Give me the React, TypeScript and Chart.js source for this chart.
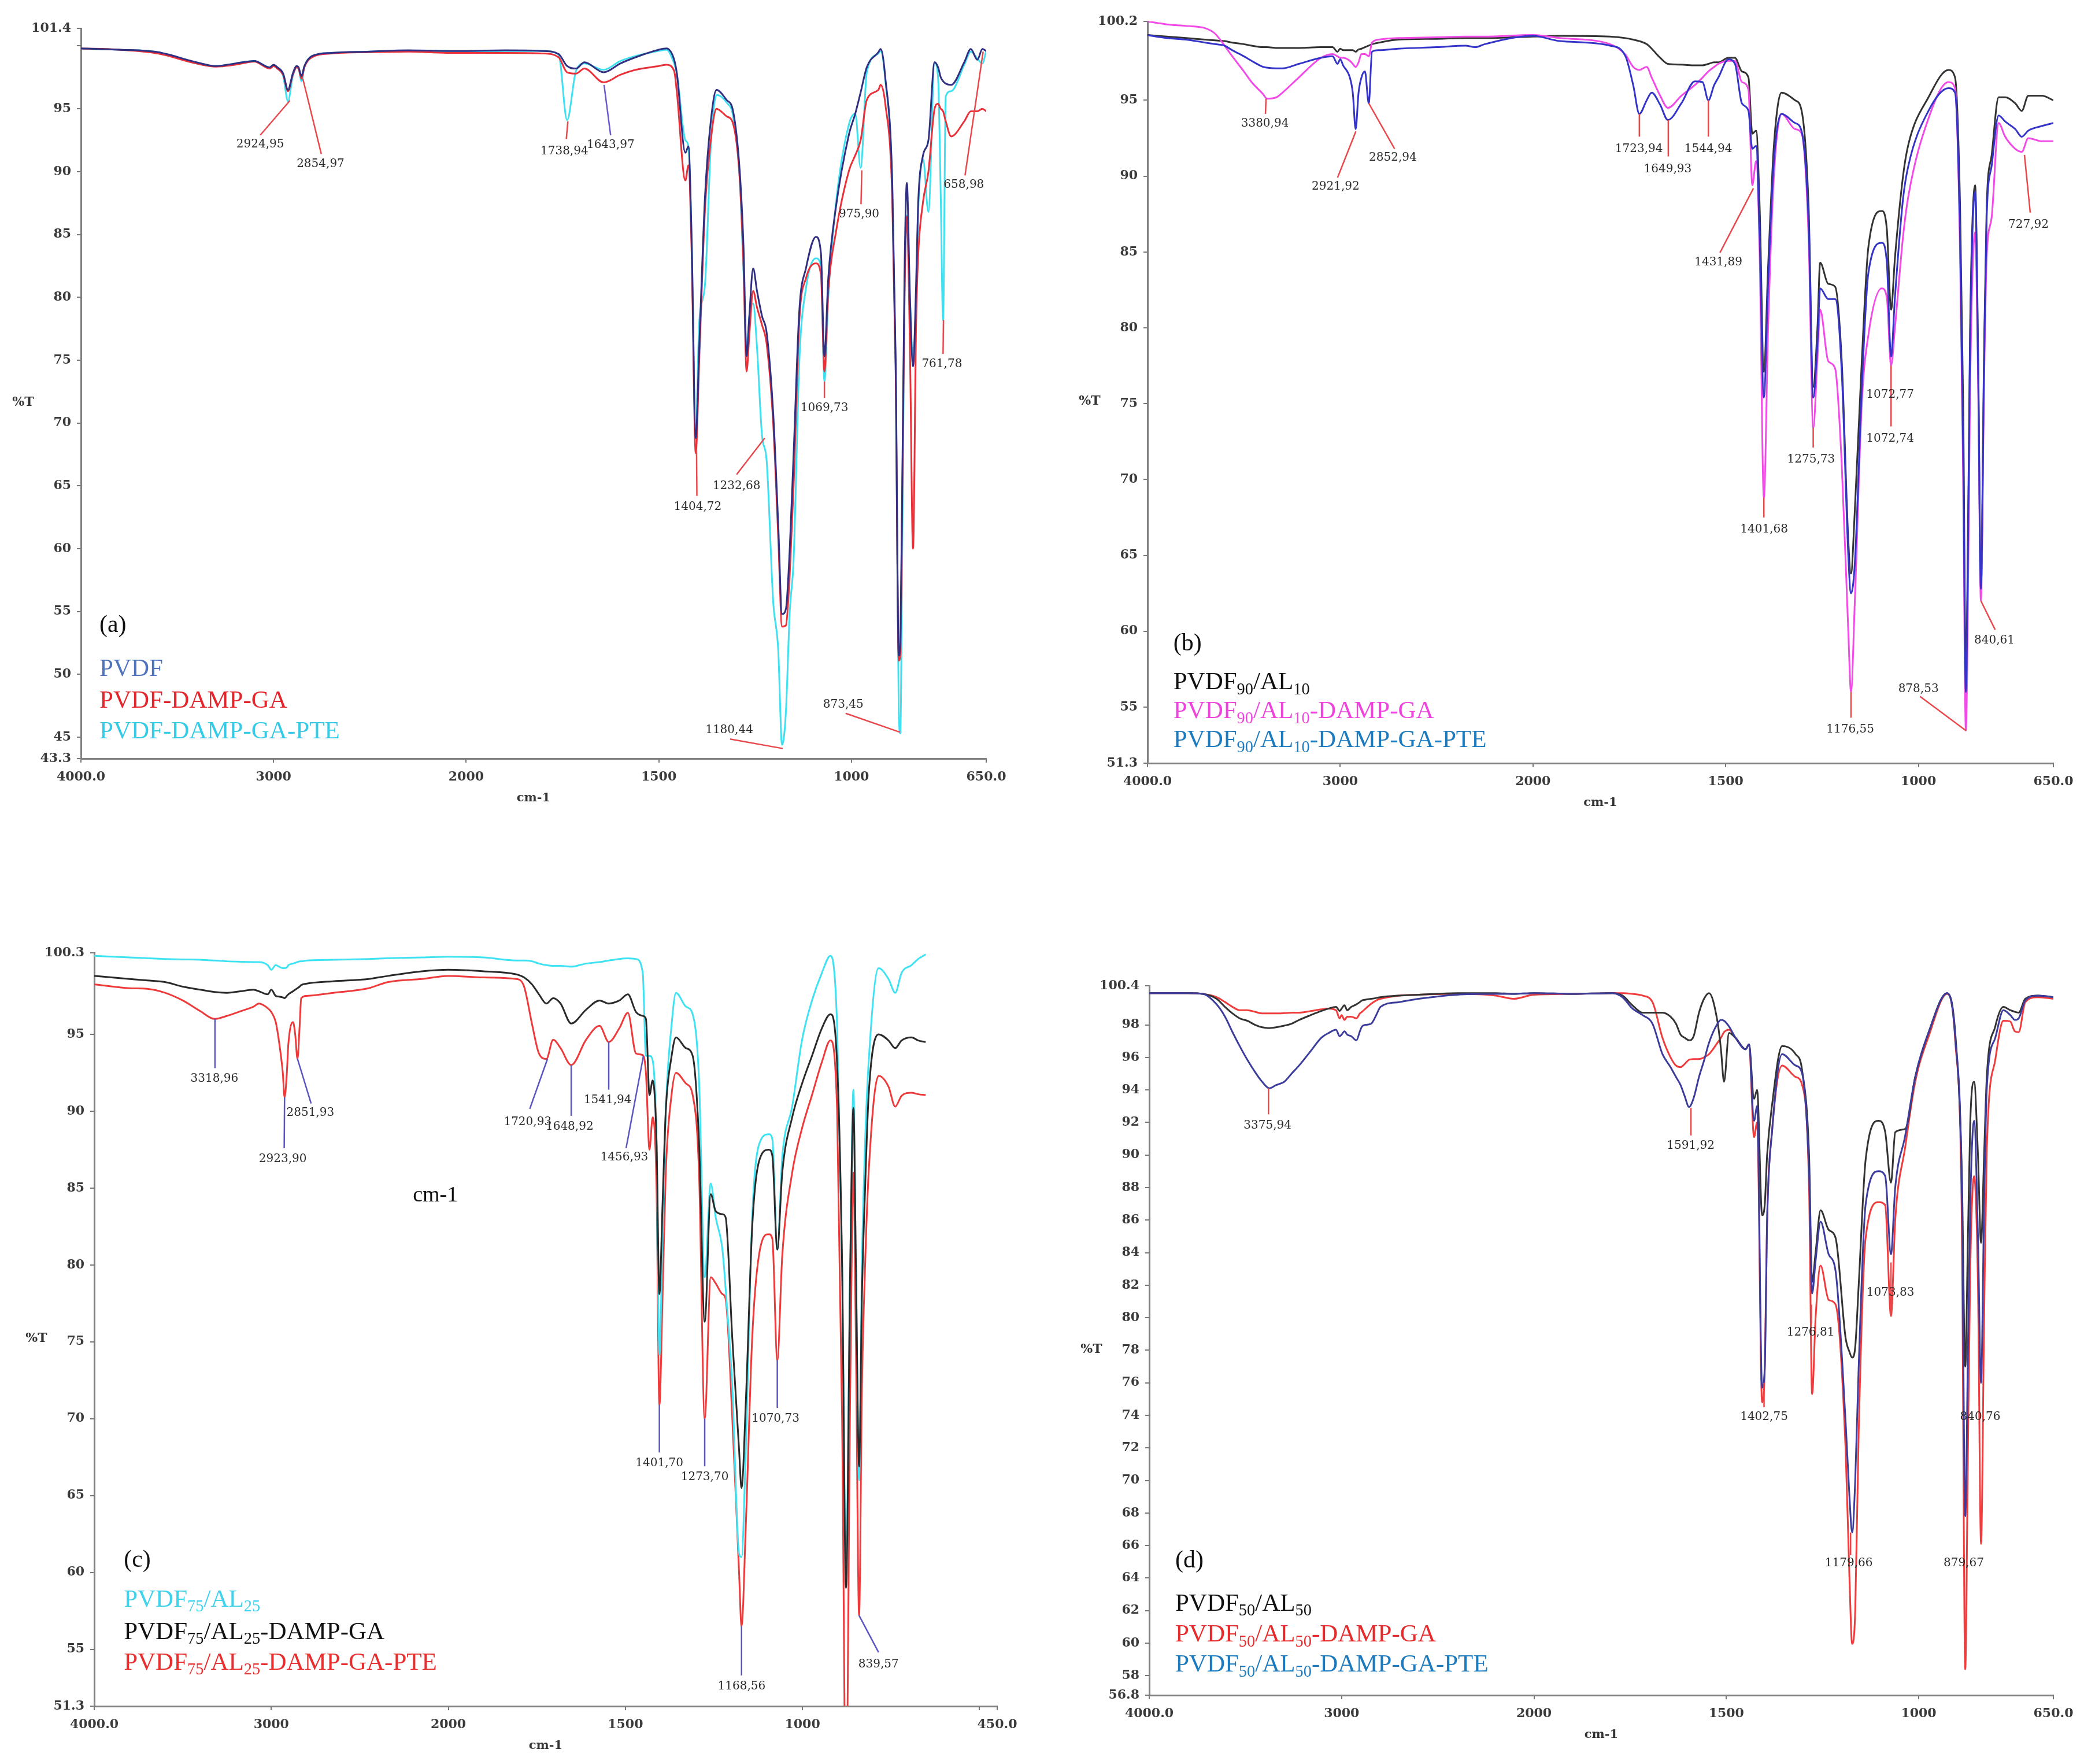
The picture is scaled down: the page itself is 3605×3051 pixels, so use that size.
import React, { useEffect, useRef } from "react";
import { Chart, registerables } from "chart.js";

Chart.register(...registerables);

const TICK_FONT = "'DejaVu Serif', serif";
const TEXT_FONT = "'Liberation Serif', 'Times New Roman', serif";

// FTIR axes: region above 2000 cm-1 is drawn at half scale
const toU = (w: number): number => (w <= 2000 ? w : 2000 + (w - 2000) / 2);

// ---------------- Panel (a) ----------------
const wnA = [4000, 3800, 3600, 3400, 3300, 3200, 3100, 3020, 3000, 2980,
  2950, 2925, 2900, 2880, 2870, 2855, 2840, 2800, 2700, 2500,
  2300, 2100, 2000, 1900, 1800, 1760, 1738, 1715, 1693, 1643,
  1600, 1560, 1500, 1480, 1460, 1453, 1431, 1423, 1415, 1404,
  1395, 1380, 1365, 1350, 1324, 1307, 1290, 1280, 1272, 1265,
  1255, 1245, 1232, 1220, 1203, 1190, 1180, 1170, 1160, 1150,
  1135, 1118, 1092, 1079, 1070, 1060, 1040, 1006, 990, 976,
  960, 930, 924, 912, 894, 885, 877, 873, 868, 862,
  856, 848, 840, 832, 827, 814, 800, 784, 775, 768,
  762, 755, 741, 707, 690, 673, 660, 650];
const pvdfA = [99.8, 99.7, 99.5, 98.7, 98.4, 98.6, 98.8, 98.3, 98.5, 98.3,
  97.8, 96.5, 97.8, 98.4, 98.3, 97.6, 98.4, 99.2, 99.45, 99.55,
  99.65, 99.6, 99.6, 99.65, 99.6, 99.35, 98.4, 98.2, 98.7, 97.9,
  98.6, 99.1, 99.7, 99.8, 98.9, 97.8, 91.5, 92.0, 85.0, 68.8,
  76.0, 88.0, 94.0, 96.5, 95.7, 94.8, 90.1, 84.0, 75.3, 78.5,
  82.3, 80.5, 78.5, 77.2, 70.8, 62.0, 54.8, 55.2, 60.0, 67.5,
  79.0, 82.3, 84.8, 83.5, 75.3, 81.5, 87.2, 93.0, 94.6, 96.3,
  98.3, 99.5, 99.75, 97.5, 89.3, 75.0, 51.5, 52.5, 65.0, 82.0,
  89.1, 80.0, 74.5, 81.0, 87.2, 91.3, 92.5, 98.7, 98.3, 97.5,
  97.2, 97.0, 96.9, 98.7, 99.75, 98.9, 99.75, 99.6];
const dampA = [99.8, 99.7, 99.4, 98.6, 98.35, 98.5, 98.75, 98.2, 98.4, 98.2,
  97.7, 96.4, 97.7, 98.3, 98.2, 97.4, 98.3, 99.1, 99.4, 99.5,
  99.55, 99.45, 99.45, 99.45, 99.4, 99.1, 97.9, 97.8, 98.2, 97.1,
  97.7, 98.1, 98.4, 98.5, 98.0, 96.3, 89.3, 90.5, 84.0, 67.6,
  75.0, 87.0, 92.5, 95.0, 94.4, 93.8, 89.5, 82.5, 74.1, 77.0,
  80.5, 79.2, 77.8, 76.3, 70.0, 61.0, 53.8, 53.9, 58.0, 65.0,
  78.2, 81.5, 82.7, 81.8, 74.1, 80.5, 85.2, 90.1, 91.3, 92.5,
  95.7, 96.5, 96.9, 95.4, 88.0, 74.0, 51.1, 51.5, 64.0, 80.0,
  86.4, 76.0, 60.0, 78.0, 83.1, 87.6, 90.0, 95.0, 95.4, 95.0,
  94.8, 94.0, 92.8, 94.0, 94.8, 94.8, 95.0, 94.8];
const pteA = [99.8, 99.7, 99.5, 98.6, 98.4, 98.6, 98.8, 98.3, 98.4, 98.2,
  97.6, 95.6, 97.6, 98.3, 98.2, 97.2, 98.3, 99.2, 99.45, 99.55,
  99.6, 99.6, 99.55, 99.6, 99.6, 99.3, 94.1, 98.0, 98.6, 98.1,
  98.8, 99.2, 99.6, 99.7, 98.6, 97.8, 92.5, 92.0, 85.0, 69.0,
  78.0, 81.0, 92.0, 96.1, 95.5, 94.4, 89.5, 82.0, 75.7, 78.5,
  79.5, 76.0, 69.0, 67.0, 55.8, 52.0, 44.4, 47.0, 55.0, 59.1,
  75.0, 80.7, 83.1, 82.5, 73.3, 80.0, 87.5, 93.8, 94.6, 90.3,
  97.9, 99.4, 99.6, 97.3, 89.0, 74.0, 47.0, 45.3, 60.0, 80.0,
  86.5, 80.0, 74.9, 80.0, 86.5, 91.0, 86.8, 98.7, 97.5, 88.0,
  78.2, 96.0, 96.4, 98.5, 99.55, 99.0, 98.6, 99.6];
const yTicksA = [101.4, 100, 95, 90, 85, 80, 75, 70, 65, 60, 55, 50, 45, 43.3];
const yMinorA = [100];
const xTicksA = [4000, 3000, 2000, 1500, 1000, 650];
const xLabelsA = ["4000.0", "3000", "2000", "1500", "1000", "650.0"];

// ---------------- Panel (b) ----------------
const wnB = [4000, 3900, 3800, 3700, 3650, 3600, 3560, 3500, 3460, 3400,
  3380, 3330, 3300, 3215, 3100, 3040, 3014, 3000, 2985, 2950,
  2935, 2920, 2905, 2890, 2872, 2852, 2835, 2800, 2700, 2500,
  2350, 2300, 2250, 2000, 1930, 1800, 1760, 1740, 1724, 1705,
  1692, 1670, 1650, 1615, 1580, 1560, 1545, 1530, 1519, 1493,
  1476, 1458, 1441, 1431, 1421, 1412, 1401, 1390, 1375, 1355,
  1320, 1303, 1285, 1273, 1262, 1255, 1234, 1216, 1199, 1182,
  1175, 1165, 1147, 1130, 1095, 1082, 1071, 1061, 1040, 1026,
  974, 922, 905, 892, 884, 877, 870, 866, 853, 845,
  838, 830, 823, 810, 792, 775, 749, 732, 715, 680,
  650];
const al10B = [99.3, 99.2, 99.1, 99.0, 98.95, 98.9, 98.8, 98.7, 98.6, 98.5,
  98.5, 98.45, 98.45, 98.45, 98.5, 98.5, 98.2, 98.4, 98.3, 98.3,
  98.3, 98.2, 98.35, 98.4, 98.5, 98.6, 98.7, 98.8, 99.0, 99.05,
  99.1, 99.1, 99.1, 99.2, 99.25, 99.2, 99.1, 99.0, 98.9, 98.7,
  98.4, 97.8, 97.4, 97.35, 97.3, 97.3, 97.4, 97.5, 97.5, 97.8,
  97.8, 96.9, 96.5, 92.8, 93.0, 88.0, 77.1, 84.0, 92.0, 95.5,
  95.0, 94.3, 88.0, 76.1, 80.0, 84.3, 82.9, 82.7, 77.8, 66.0,
  63.8, 68.0, 77.8, 85.3, 87.7, 86.5, 81.2, 84.6, 90.0, 92.1,
  95.2, 97.0, 96.5, 88.0, 75.0, 57.4, 70.0, 80.0, 89.4, 78.0,
  62.8, 78.0, 88.0, 91.4, 95.2, 95.2, 94.8, 94.3, 95.3, 95.3,
  95.0];
const al10DampB = [100.2, 100.0, 99.9, 99.75, 99.4, 98.6, 97.9, 96.9, 96.2, 95.4,
  95.1, 95.2, 95.5, 96.5, 97.8, 98.05, 97.9, 97.8, 97.8, 97.6,
  97.4, 97.2, 97.5, 98.05, 98.05, 97.9, 98.8, 99.0, 99.1, 99.15,
  99.2, 99.2, 99.2, 99.3, 99.1, 98.7, 98.0, 97.2, 97.0, 97.2,
  96.5, 95.3, 94.5, 95.3, 96.0, 96.5, 96.9, 97.2, 97.4, 97.6,
  97.6, 96.2, 95.7, 89.4, 91.0, 85.0, 68.8, 80.0, 90.0, 94.1,
  93.1, 92.8, 86.0, 73.4, 78.0, 81.2, 77.8, 77.3, 71.0, 60.0,
  56.0, 62.0, 75.0, 79.5, 82.6, 82.0, 77.5, 80.0, 86.0, 88.7,
  93.8, 96.2, 95.8, 85.0, 70.0, 53.45, 66.0, 76.0, 86.3, 76.0,
  62.0, 76.0, 84.6, 87.3, 93.5, 92.6, 91.8, 91.6, 92.5, 92.3,
  92.3];
const al10PteB = [99.3, 99.1, 99.0, 98.8, 98.7, 98.6, 98.3, 97.9, 97.6, 97.2,
  97.15, 97.1, 97.1, 97.4, 97.8, 97.9, 97.4, 97.7, 97.3, 96.5,
  95.5, 93.1, 95.5, 96.5, 96.9, 94.8, 98.2, 98.3, 98.4, 98.5,
  98.6, 98.5, 98.7, 99.25, 98.9, 98.6, 97.9, 96.0, 94.1, 95.0,
  95.5, 94.7, 93.7, 94.8, 96.25, 96.2, 95.0, 96.0, 96.5, 97.7,
  97.4, 94.8, 94.3, 91.8, 92.0, 86.0, 75.4, 83.0, 91.0, 94.1,
  93.5, 92.95, 87.0, 75.4, 79.0, 82.6, 81.9, 81.9, 77.1, 65.0,
  62.5, 64.5, 76.0, 83.6, 85.6, 84.3, 78.1, 82.0, 88.5, 90.7,
  94.3, 95.8, 95.5, 86.0, 72.0, 56.0, 69.0, 79.0, 89.0, 77.0,
  62.8, 77.0, 87.3, 90.7, 94.0, 93.6, 93.1, 92.6, 93.0, 93.3,
  93.5];
const yTicksB = [100.2, 95, 90, 85, 80, 75, 70, 65, 60, 55, 51.3];
const yMinorB: number[] = [];
const xTicksB = [4000, 3000, 2000, 1500, 1000, 650];
const xLabelsB = ["4000.0", "3000", "2000", "1500", "1000", "650.0"];

// ---------------- Panel (c) ----------------
const wnC = [4000, 3800, 3700, 3600, 3500, 3400, 3320, 3250, 3175, 3100,
  3070, 3020, 3000, 2975, 2956, 2935, 2925, 2912, 2904, 2877,
  2865, 2852, 2840, 2831, 2800, 2650, 2450, 2340, 2150, 2000,
  1900, 1808, 1786, 1764, 1744, 1723, 1704, 1683, 1653, 1611,
  1573, 1547, 1517, 1493, 1470, 1451, 1442, 1432, 1423, 1412,
  1404, 1395, 1386, 1370, 1357, 1329, 1310, 1292, 1276, 1259,
  1245, 1226, 1217, 1198, 1179, 1172, 1160, 1142, 1123, 1095,
  1085, 1071, 1057, 1029, 1001, 973, 945, 921, 902, 888,
  877, 865, 856, 849, 840, 832, 823, 813, 785, 757,
  738, 720, 692, 673, 652];
const al25C = [100.1, 100.0, 99.95, 99.9, 99.87, 99.85, 99.8, 99.75, 99.72, 99.7,
  99.7, 99.5, 99.2, 99.5, 99.4, 99.3, 99.3, 99.35, 99.5, 99.6,
  99.65, 99.7, 99.75, 99.75, 99.8, 99.85, 99.9, 99.95, 100.0, 100.05,
  100.0, 99.8, 99.8, 99.75, 99.6, 99.5, 99.45, 99.45, 99.4, 99.6,
  99.7, 99.8, 99.9, 99.94, 99.9, 99.0, 93.6, 93.6, 93.3, 88.0,
  74.15, 82.0, 90.0, 95.5, 97.7, 96.8, 96.3, 92.0, 79.2, 85.3,
  83.1, 81.0, 78.5, 72.0, 61.2, 61.0, 68.0, 83.0, 87.8, 88.5,
  88.2, 81.0, 87.0, 90.3, 94.65, 97.2, 99.0, 100.1, 95.5, 80.0,
  60.8, 80.0, 91.4, 80.0, 66.0, 80.0, 88.0, 93.2, 99.3, 98.6,
  97.7, 99.0, 99.5, 99.9, 100.2];
const al25DampC = [98.8, 98.6, 98.5, 98.4, 98.1, 97.9, 97.75, 97.7, 97.8, 97.9,
  97.8, 97.6, 97.9, 97.5, 97.45, 97.4, 97.35, 97.5, 97.6, 97.8,
  97.9, 98.0, 98.1, 98.2, 98.3, 98.45, 98.6, 98.8, 99.1, 99.2,
  99.1, 98.9, 98.7, 98.25, 97.6, 97.0, 97.35, 97.0, 95.7, 96.6,
  97.2, 97.0, 97.2, 97.6, 96.45, 96.2, 96.0, 91.05, 92.0, 88.0,
  78.1, 84.0, 90.0, 93.5, 94.8, 94.1, 93.6, 88.0, 76.3, 84.6,
  83.5, 83.3, 83.1, 75.2, 68.0, 65.5, 71.0, 82.4, 86.7, 87.5,
  87.1, 81.0, 86.0, 89.6, 91.8, 93.6, 95.4, 96.3, 93.0, 80.0,
  59.0, 80.0, 90.2, 80.0, 66.9, 78.0, 85.0, 91.05, 95.0, 94.6,
  94.1, 94.6, 94.8, 94.6, 94.5];
const al25PteC = [98.25, 98.0, 97.96, 97.7, 97.2, 96.5, 96.0, 96.2, 96.5, 96.8,
  97.0, 96.7, 96.45, 95.8, 94.5, 92.5, 90.9, 92.5, 94.3, 95.8,
  95.0, 93.4, 95.5, 97.35, 97.5, 97.7, 98.0, 98.4, 98.6, 98.8,
  98.7, 98.6, 98.1, 95.7, 93.75, 93.4, 94.65, 94.1, 93.0, 94.65,
  95.55, 94.5, 95.4, 96.4, 93.75, 93.65, 92.5, 87.5, 89.6, 85.0,
  70.9, 78.0, 86.0, 91.0, 92.5, 91.8, 91.05, 86.0, 70.0, 79.2,
  78.8, 78.1, 77.8, 70.0, 60.0, 56.5, 63.0, 75.2, 80.6, 82.0,
  81.7, 73.8, 80.6, 86.0, 88.9, 91.05, 93.2, 94.6, 90.0, 70.0,
  45.0, 72.0, 86.0, 75.0, 57.2, 72.0, 80.0, 86.0, 92.3, 91.6,
  90.3, 91.0, 91.2, 91.1, 91.05];
const yTicksC = [100.3, 95, 90, 85, 80, 75, 70, 65, 60, 55, 51.3];
const yMinorC: number[] = [];
const xTicksC = [4000, 3000, 2000, 1500, 1000, 500, 450];
const xLabelsC = ["4000.0", "3000", "2000", "1500", "1000", "", "450.0"];

// ---------------- Panel (d) ----------------
const wnD = [4000, 3800, 3721, 3650, 3606, 3567, 3530, 3490, 3450, 3413,
  3375, 3340, 3298, 3260, 3221, 3160, 3106, 3067, 3029, 3010,
  3000, 2985, 2971, 2950, 2923, 2905, 2894, 2875, 2846, 2820,
  2798, 2700, 2600, 2400, 2200, 2106, 2000, 1900, 1796, 1770,
  1744, 1718, 1692, 1666, 1645, 1631, 1619, 1608, 1597, 1585,
  1571, 1558, 1545, 1523, 1514, 1506, 1493, 1476, 1450, 1441,
  1428, 1420, 1407, 1400, 1394, 1381, 1355, 1320, 1303, 1285,
  1277, 1268, 1255, 1234, 1216, 1190, 1180, 1173, 1165, 1156,
  1138, 1104, 1087, 1072, 1061, 1035, 1009, 974, 926, 905,
  888, 879, 872, 866, 856, 846, 838, 830, 823, 801,
  780, 762, 750, 740, 723, 689, 650];
const al50D = [99.95, 99.95, 99.9, 99.6, 99.1, 98.7, 98.4, 98.25, 98.0, 97.85,
  97.8, 97.85, 97.95, 98.07, 98.3, 98.6, 98.85, 99.0, 99.1, 98.85,
  99.0, 99.2, 98.9, 99.1, 99.26, 99.4, 99.5, 99.55, 99.6, 99.65,
  99.7, 99.8, 99.85, 99.95, 99.95, 99.9, 99.95, 99.9, 99.95, 99.8,
  99.2, 98.75, 98.75, 98.75, 98.5, 98.07, 97.4, 97.2, 97.05, 97.3,
  98.75, 99.6, 99.95, 98.2, 96.5, 94.5, 97.5, 97.2, 96.5, 96.8,
  93.45, 94.0, 86.3, 87.0, 90.0, 93.1, 96.7, 96.2, 95.2, 90.0,
  82.2, 84.0, 86.6, 85.4, 84.9, 78.75, 77.9, 77.55, 78.2, 82.0,
  89.7, 92.1, 91.4, 88.3, 91.4, 91.6, 94.8, 97.55, 99.95, 97.5,
  89.0, 77.0, 85.0, 92.0, 94.5, 90.0, 84.6, 90.0, 94.8, 97.9,
  99.1, 98.9, 98.8, 98.75, 99.6, 99.8, 99.7];
const al50DampD = [99.95, 99.95, 99.9, 99.7, 99.4, 99.1, 98.9, 98.9, 98.8, 98.7,
  98.7, 98.7, 98.72, 98.75, 98.75, 98.85, 98.95, 99.0, 98.9, 98.4,
  98.6, 98.3, 98.5, 98.5, 98.4, 98.7, 98.8, 99.0, 99.3, 99.5,
  99.6, 99.8, 99.85, 99.9, 99.8, 99.6, 99.85, 99.9, 99.95, 99.95,
  99.9, 99.8, 99.4, 97.2, 96.0, 95.5, 95.4, 95.6, 95.85, 95.9,
  95.9, 96.0, 96.2, 96.9, 97.2, 97.55, 97.7, 97.2, 96.5, 96.8,
  91.1, 92.0, 74.8, 77.0, 86.0, 91.5, 95.5, 94.8, 94.3, 88.0,
  75.3, 80.0, 83.2, 81.1, 80.8, 71.9, 64.0, 59.95, 62.0, 73.0,
  84.9, 87.1, 86.9, 80.1, 86.0, 90.5, 94.5, 97.3, 99.9, 97.0,
  86.0, 58.4, 72.0, 83.0, 88.7, 82.0, 66.1, 80.0, 90.4, 95.85,
  98.25, 98.2, 97.6, 97.55, 99.4, 99.7, 99.6];
const al50PteD = [99.95, 99.95, 99.9, 99.26, 98.5, 97.55, 96.7, 95.85, 95.1, 94.5,
  94.1, 94.3, 94.5, 95.0, 95.5, 96.4, 97.2, 97.5, 97.7, 97.3,
  97.4, 97.6, 97.4, 97.3, 97.05, 97.6, 97.9, 98.0, 98.07, 98.6,
  99.1, 99.4, 99.6, 99.85, 99.9, 99.9, 99.95, 99.9, 99.95, 99.7,
  99.0, 98.6, 98.07, 96.2, 95.4, 94.8, 94.3, 93.6, 92.95, 93.5,
  94.8, 95.8, 96.9, 98.07, 98.3, 98.25, 97.9, 97.2, 96.5, 96.8,
  92.1, 93.0, 75.7, 77.0, 86.0, 91.5, 96.2, 95.5, 95.0, 89.0,
  81.5, 83.5, 85.9, 83.9, 82.85, 73.6, 69.0, 66.8, 70.0, 77.0,
  86.95, 89.0, 88.7, 83.9, 88.0, 91.2, 94.8, 97.55, 99.95, 97.2,
  88.0, 67.8, 78.0, 87.0, 92.1, 85.0, 76.0, 87.0, 94.1, 97.2,
  98.9, 98.6, 98.3, 98.4, 99.5, 99.8, 99.7];
const yTicksD = [100.4, 98, 96, 94, 92, 90, 88, 86, 84, 82, 80, 78, 76, 74, 72, 70, 68, 66, 64, 62, 60, 58, 56.8];
const yMinorD: number[] = [];
const xTicksD = [4000, 3000, 2000, 1500, 1000, 650];
const xLabelsD = ["4000.0", "3000", "2000", "1500", "1000", "650.0"];

// ---------------- Types & panel definitions ----------------
type Seg = { t: string; sub?: boolean };
type Ann = { t: string; at: [number, number]; tip?: [number, number]; end?: [number, number]; c?: string };
type Series = { label: string; values: number[]; line: string; text: string; order: number; legend: Seg[] };
type PanelDef = {
  box: { x: number; y: number; w: number; h: number };
  yW: number; padTop: number; padRight: number; xH: number;
  wn: number[]; series: Series[];
  yMin: number; yMax: number; yTicks: number[]; yMinor: number[];
  xMinW: number; xTicks: number[]; xLabels: string[];
  tag: string; tagAt: [number, number]; legendAt: [number, number][];
  anns: Ann[]; annColor: string;
  extra?: { t: string; at: [number, number]; size: number }[];
};

const sub = (a: string, b: string, tail: string): Seg[] => {
  const s: Seg[] = [{ t: "PVDF" }, { t: a, sub: true }, { t: "/AL" }, { t: b, sub: true }];
  if (tail) s.push({ t: tail });
  return s;
};

const panels: PanelDef[] = [
  {
    box: { x: 0, y: 0, w: 1780, h: 1430 }, yW: 140, padTop: 49, padRight: 74, xH: 118,
    wn: wnA,
    series: [
      { label: "PVDF", values: pvdfA, line: "#302F82", text: "#4F74BD", order: 0, legend: [{ t: "PVDF" }] },
      { label: "PVDF-DAMP-GA", values: dampA, line: "#EA3038", text: "#E3262B", order: 1, legend: [{ t: "PVDF-DAMP-GA" }] },
      { label: "PVDF-DAMP-GA-PTE", values: pteA, line: "#3FE0F0", text: "#35CBE6", order: 2, legend: [{ t: "PVDF-DAMP-GA-PTE" }] },
    ],
    yMin: 43.3, yMax: 101.4, yTicks: yTicksA, yMinor: yMinorA, xMinW: 650, xTicks: xTicksA, xLabels: xLabelsA,
    tag: "(a)", tagAt: [3904, 53.97], legendAt: [[3904, 50.5], [3904, 48.0], [3904, 45.55]],
    annColor: "#E8484C",
    anns: [
      { t: "2924,95", tip: [2915, 95.65], end: [3069, 92.9], at: [3069, 92.16] },
      { t: "2854,97", tip: [2848, 97.4], end: [2752, 91.4], at: [2756, 90.6] },
      { t: "1738,94", tip: [1736, 94.0], end: [1740, 92.6], at: [1745, 91.6] },
      { t: "1643,97", tip: [1642, 96.9], end: [1625, 92.9], at: [1625, 92.1], c: "#6A5ACD" },
      { t: "1404,72", tip: [1402, 67.9], end: [1401, 64.2], at: [1399, 63.3] },
      { t: "1232,68", tip: [1225, 68.8], end: [1298, 65.9], at: [1298, 64.97] },
      { t: "1180,44", tip: [1178, 44.1], end: [1315, 44.85], at: [1317, 45.55] },
      { t: "1069,73", tip: [1070, 73.3], end: [1070, 72.0], at: [1070, 71.2] },
      { t: "975,90", tip: [973, 90.1], end: [975, 87.4], at: [980, 86.6] },
      { t: "873,45", tip: [874, 45.4], end: [1015, 46.9], at: [1021, 47.6] },
      { t: "761,78", tip: [761, 78.2], end: [762, 75.5], at: [765, 74.7] },
      { t: "658,98", tip: [658, 99.55], end: [705, 89.7], at: [708, 88.95] },
    ],
  },
  {
    box: { x: 1800, y: 0, w: 1805, h: 1430 }, yW: 185, padTop: 37, padRight: 53, xH: 110,
    wn: wnB,
    series: [
      { label: "PVDF90/AL10", values: al10B, line: "#333333", text: "#111111", order: 2, legend: sub("90", "10", "") },
      { label: "PVDF90/AL10-DAMP-GA", values: al10DampB, line: "#F24AE6", text: "#EE44DD", order: 1, legend: sub("90", "10", "-DAMP-GA") },
      { label: "PVDF90/AL10-DAMP-GA-PTE", values: al10PteB, line: "#3434C8", text: "#1C7BBF", order: 0, legend: sub("90", "10", "-DAMP-GA-PTE") },
    ],
    yMin: 51.3, yMax: 100.2, yTicks: yTicksB, yMinor: yMinorB, xMinW: 650, xTicks: xTicksB, xLabels: xLabelsB,
    tag: "(b)", tagAt: [3866, 59.24], legendAt: [[3866, 56.7], [3866, 54.8], [3866, 52.9]],
    annColor: "#E8484C",
    anns: [
      { t: "3380,94", tip: [3385, 95.1], end: [3388, 94.1], at: [3391, 93.46] },
      { t: "2921,92", tip: [2919, 92.95], end: [3014, 89.9], at: [3024, 89.3] },
      { t: "2852,94", tip: [2852, 94.8], end: [2718, 91.8], at: [2727, 91.2] },
      { t: "1723,94", tip: [1724, 94.1], end: [1724, 92.6], at: [1725, 91.8] },
      { t: "1649,93", tip: [1649, 93.7], end: [1649, 91.3], at: [1650.5, 90.46] },
      { t: "1544,94", tip: [1545, 95.0], end: [1545, 92.6], at: [1545, 91.8] },
      { t: "1431,89", tip: [1428, 89.2], end: [1515, 84.95], at: [1519, 84.3] },
      { t: "1401,68", tip: [1401, 68.8], end: [1401, 67.5], at: [1400.5, 66.7] },
      { t: "1275,73", tip: [1273, 73.4], end: [1273, 72.1], at: [1278.5, 71.3] },
      { t: "1072,77", tip: [1071, 77.5], end: [1071, 73.5], at: [1073.5, 75.6] },
      { t: "1072,74", at: [1073.5, 72.7] },
      { t: "1176,55", tip: [1175, 56.0], end: [1175, 54.3], at: [1177, 53.5] },
      { t: "878,53", tip: [877, 53.45], end: [996, 55.7], at: [1000, 56.2] },
      { t: "840,61", tip: [838, 62.0], end: [801, 60.1], at: [803, 59.4] },
      { t: "727,92", tip: [725, 91.4], end: [710, 87.6], at: [714.5, 86.8] },
    ],
  },
  {
    box: { x: 0, y: 1540, w: 1780, h: 1511 }, yW: 163, padTop: 108, padRight: 55, xH: 100,
    wn: wnC,
    series: [
      { label: "PVDF75/AL25", values: al25C, line: "#3FE2F2", text: "#3ED2EC", order: 1, legend: sub("75", "25", "") },
      { label: "PVDF75/AL25-DAMP-GA", values: al25DampC, line: "#2A2A2A", text: "#111111", order: 0, legend: sub("75", "25", "-DAMP-GA") },
      { label: "PVDF75/AL25-DAMP-GA-PTE", values: al25PteC, line: "#EE3A3A", text: "#E82E2E", order: 2, legend: sub("75", "25", "-DAMP-GA-PTE") },
    ],
    yMin: 51.3, yMax: 100.3, yTicks: yTicksC, yMinor: yMinorC, xMinW: 450, xTicks: xTicksC, xLabels: xLabelsC,
    tag: "(c)", tagAt: [3833, 60.85], legendAt: [[3833, 58.3], [3833, 56.2], [3833, 54.2]],
    annColor: "#5A55C0",
    anns: [
      { t: "3318,96", tip: [3318, 96.0], end: [3318, 92.8], at: [3321, 92.1] },
      { t: "2923,90", tip: [2925, 90.9], end: [2927, 87.6], at: [2935, 86.9] },
      { t: "2851,93", tip: [2852, 93.4], end: [2775, 90.5], at: [2779, 89.9] },
      { t: "1720,93", tip: [1720, 93.4], end: [1770, 90.15], at: [1776, 89.3] },
      { t: "1648,92", tip: [1653, 93.0], end: [1653, 89.7], at: [1657.6, 89.0] },
      { t: "1541,94", tip: [1547, 94.5], end: [1547, 91.4], at: [1550, 90.7] },
      { t: "1456,93", tip: [1449, 93.6], end: [1498, 87.6], at: [1503, 87.0] },
      { t: "1401,70", tip: [1404, 70.9], end: [1404, 67.8], at: [1404, 67.1] },
      { t: "1273,70", tip: [1276, 70.0], end: [1276, 66.9], at: [1276, 66.2] },
      { t: "1070,73", tip: [1071, 73.8], end: [1071, 70.7], at: [1076, 70.0] },
      { t: "1168,56", tip: [1172, 56.5], end: [1172, 53.3], at: [1171.7, 52.6] },
      { t: "839,57", tip: [840, 57.2], end: [785, 54.8], at: [785, 54.0] },
    ],
    extra: [{ t: "cm-1", at: [2073, 84.5], size: 38 }],
  },
  {
    box: { x: 1800, y: 1540, w: 1805, h: 1511 }, yW: 188, padTop: 165, padRight: 53, xH: 119,
    wn: wnD,
    series: [
      { label: "PVDF50/AL50", values: al50D, line: "#333333", text: "#111111", order: 1, legend: sub("50", "50", "") },
      { label: "PVDF50/AL50-DAMP-GA", values: al50DampD, line: "#F03C3C", text: "#E52B2B", order: 2, legend: sub("50", "50", "-DAMP-GA") },
      { label: "PVDF50/AL50-DAMP-GA-PTE", values: al50PteD, line: "#3C3C9C", text: "#1C7BBF", order: 0, legend: sub("50", "50", "-DAMP-GA-PTE") },
    ],
    yMin: 56.8, yMax: 100.4, yTicks: yTicksD, yMinor: yMinorD, xMinW: 650, xTicks: xTicksD, xLabels: xLabelsD,
    tag: "(d)", tagAt: [3865, 65.1], legendAt: [[3865, 62.5], [3865, 60.6], [3865, 58.75]],
    annColor: "#E8484C",
    anns: [
      { t: "3375,94", tip: [3380, 94.1], end: [3380, 92.5], at: [3385, 91.8] },
      { t: "1591,92", tip: [1592, 92.9], end: [1592, 91.2], at: [1592.6, 90.55] },
      { t: "1402,75", tip: [1402, 76.0], end: [1402, 74.5], at: [1402, 73.9] },
      { t: "1276,81", tip: [1279, 80.8], end: [1279, 79.6], at: [1281, 79.1] },
      { t: "1073,83", tip: [1072, 83.4], end: [1072, 80.1], at: [1073.5, 81.55] },
      { t: "1179,66", tip: [1177, 66.8], end: [1177, 65.4], at: [1181.7, 64.9] },
      { t: "879,67", at: [883, 64.9] },
      { t: "840,76", at: [840, 73.9] },
    ],
  },
];

function drawRich(ctx: CanvasRenderingContext2D, x: number, y: number, segs: Seg[], size: number, color: string) {
  let cx = x;
  ctx.fillStyle = color;
  ctx.textAlign = "left";
  ctx.textBaseline = "alphabetic";
  for (const s of segs) {
    const fs = s.sub ? size * 0.66 : size;
    ctx.font = `${fs}px ${TEXT_FONT}`;
    ctx.fillText(s.t, cx, s.sub ? y + size * 0.2 : y);
    cx += ctx.measureText(s.t).width;
  }
}

function makeOverlay(def: PanelDef) {
  return {
    id: "overlay",
    afterDraw(chart: any) {
      const ctx: CanvasRenderingContext2D = chart.ctx;
      const xs = chart.scales.x;
      const ys = chart.scales.y;
      const X = (w: number) => xs.getPixelForValue(toU(w));
      const Y = (v: number) => ys.getPixelForValue(v);
      const area = chart.chartArea;
      ctx.save();
      ctx.fillStyle = "#333";
      ctx.textAlign = "center";
      ctx.textBaseline = "middle";
      ctx.font = `bold 22px ${TICK_FONT}`;
      ctx.fillText("%T", area.left - 100, (area.top + area.bottom) / 2 + 16);
      ctx.font = `bold 21px ${TICK_FONT}`;
      ctx.fillText("cm-1", (area.left + area.right) / 2, area.bottom + 69);

      for (const a of def.anns) {
        if (a.tip && a.end) {
          ctx.strokeStyle = a.c || def.annColor;
          ctx.lineWidth = 2.5;
          ctx.beginPath();
          ctx.moveTo(X(a.tip[0]), Y(a.tip[1]));
          ctx.lineTo(X(a.end[0]), Y(a.end[1]));
          ctx.stroke();
        }
      }
      ctx.fillStyle = "#2a2a2a";
      ctx.font = `20px ${TICK_FONT}`;
      ctx.textAlign = "center";
      ctx.textBaseline = "middle";
      for (const a of def.anns) ctx.fillText(a.t, X(a.at[0]), Y(a.at[1]));

      if (def.extra) {
        for (const e of def.extra) {
          ctx.fillStyle = "#111";
          ctx.font = `${e.size}px ${TEXT_FONT}`;
          ctx.fillText(e.t, X(e.at[0]), Y(e.at[1]));
        }
      }

      ctx.fillStyle = "#111";
      ctx.font = `42px ${TEXT_FONT}`;
      ctx.textAlign = "left";
      ctx.textBaseline = "alphabetic";
      ctx.fillText(def.tag, X(def.tagAt[0]), Y(def.tagAt[1]) + 13);

      def.series.forEach((s, i) => {
        const p = def.legendAt[i];
        drawRich(ctx, X(p[0]), Y(p[1]) + 14, s.legend, 43, s.text);
      });
      ctx.restore();
    },
  };
}

function buildConfig(def: PanelDef): any {
  for (const s of def.series) {
    if (s.values.length !== def.wn.length) throw new Error(`length mismatch in ${s.label}: ${s.values.length} vs ${def.wn.length}`);
  }
  const labelMap = new Map<number, string>();
  def.xTicks.forEach((w, i) => labelMap.set(toU(w), def.xLabels[i]));
  const fmtY = (v: number) => {
    if (def.yMinor.includes(v)) return "";
    return v === def.yMax || v === def.yMin ? v.toFixed(1) : String(v);
  };
  return {
    type: "line",
    data: {
      datasets: def.series.map((s) => ({
        label: s.label,
        data: def.wn.map((w, i) => ({ x: toU(w), y: s.values[i] })),
        borderColor: s.line,
        backgroundColor: s.line,
        borderWidth: 3,
        pointRadius: 0,
        fill: false,
        order: s.order,
        cubicInterpolationMode: "monotone",
      })),
    },
    options: {
      animation: false,
      responsive: false,
      maintainAspectRatio: false,
      devicePixelRatio: 1,
      layout: { padding: { left: 0, top: def.padTop, right: def.padRight, bottom: 0 } },
      plugins: { legend: { display: false }, tooltip: { enabled: false }, title: { display: false } },
      events: [],
      scales: {
        x: {
          type: "linear",
          reverse: true,
          min: toU(def.xMinW),
          max: toU(4000),
          afterBuildTicks: (s: any) => { s.ticks = def.xTicks.map((w) => ({ value: toU(w) })); },
          afterFit: (s: any) => { s.height = def.xH; },
          ticks: {
            autoSkip: false, maxRotation: 0, minRotation: 0, padding: 12,
            color: "#3a3a3a", font: { family: TICK_FONT, size: 22, weight: "bold" },
            callback: (val: number) => labelMap.get(val) ?? "",
          },
          grid: { display: true, drawOnChartArea: false, drawTicks: true, tickLength: 7, color: "#777", lineWidth: 2 },
          border: { display: true, color: "#808080", width: 3 },
        },
        y: {
          type: "linear",
          min: def.yMin,
          max: def.yMax,
          afterBuildTicks: (s: any) => { s.ticks = def.yTicks.map((v) => ({ value: v })); },
          afterFit: (s: any) => { s.width = def.yW; },
          ticks: {
            autoSkip: false, padding: 10,
            color: "#3a3a3a", font: { family: TICK_FONT, size: 22, weight: "bold" },
            callback: (val: number) => fmtY(val),
          },
          grid: { display: true, drawOnChartArea: false, drawTicks: true, tickLength: 7, color: "#777", lineWidth: 2 },
          border: { display: true, color: "#808080", width: 3 },
        },
      },
    },
    plugins: [makeOverlay(def)],
  };
}

function Panel({ def }: { def: PanelDef }) {
  const ref = useRef<HTMLCanvasElement>(null);
  useEffect(() => {
    const chart = new Chart(ref.current as HTMLCanvasElement, buildConfig(def));
    return () => chart.destroy();
  }, [def]);
  return (
    <canvas
      ref={ref}
      width={def.box.w}
      height={def.box.h}
      style={{ position: "absolute", left: def.box.x, top: def.box.y, width: def.box.w, height: def.box.h }}
    />
  );
}

export default function App() {
  return (
    <div style={{ position: "absolute", left: 0, top: 0, width: 3605, height: 3051, background: "#ffffff", overflow: "hidden" }}>
      {panels.map((p, i) => (
        <Panel key={i} def={p} />
      ))}
    </div>
  );
}
